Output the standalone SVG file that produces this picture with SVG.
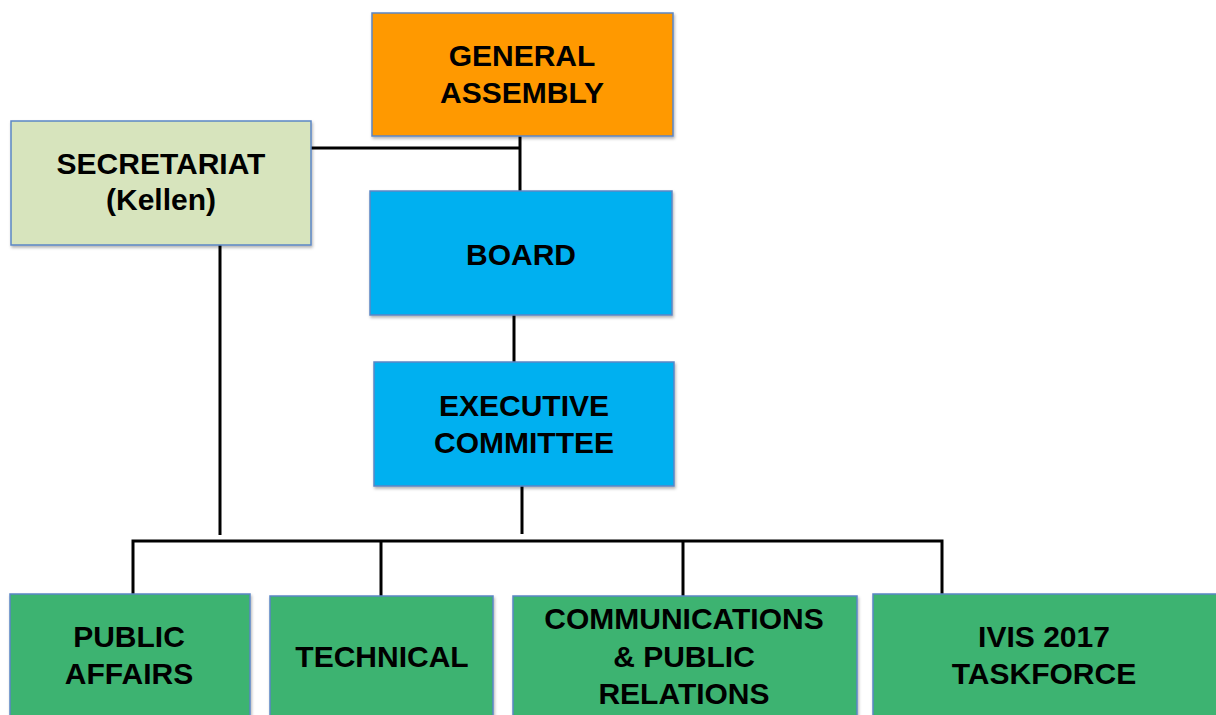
<svg xmlns="http://www.w3.org/2000/svg" width="1216" height="715" viewBox="0 0 1216 715">
<style>
.box{stroke:#5B86C5;stroke-width:1.5;filter:url(#sh)}
.t{font-family:"Liberation Sans",Arial,sans-serif;font-weight:bold;font-size:30px;fill:#000;text-anchor:middle}
.c{stroke:#000;stroke-width:3;fill:none}
</style>
<defs>
<filter id="sh" x="-5%" y="-5%" width="110%" height="115%">
<feDropShadow dx="1" dy="2" stdDeviation="1.5" flood-color="#000" flood-opacity="0.3"/>
</filter>
</defs>
<rect width="1216" height="715" fill="#fff"/>
<g id="connectors">
<path class="c" d="M520 136V191"/>
<path class="c" d="M311 148H521"/>
<path class="c" d="M514 315V362"/>
<path class="c" d="M522 486V534"/>
<path class="c" d="M220 245V535"/>
<path class="c" d="M133 594V541H942V594"/>
<path class="c" d="M381 541V596"/>
<path class="c" d="M683 541V596"/>
</g>
<g id="general-assembly">
<rect class="box" x="372" y="13" width="301" height="123" fill="#FF9900"/>
<text class="t" x="522" y="66">GENERAL</text>
<text class="t" x="522" y="103">ASSEMBLY</text>
</g>
<g id="secretariat">
<rect class="box" x="11" y="121" width="300" height="124" fill="#D7E4BD"/>
<text class="t" x="161" y="174">SECRETARIAT</text>
<text class="t" x="161" y="210">(Kellen)</text>
</g>
<g id="board">
<rect class="box" x="370" y="191" width="302" height="124" fill="#00B0F0"/>
<text class="t" x="521" y="265">BOARD</text>
</g>
<g id="executive-committee">
<rect class="box" x="374" y="362" width="300" height="124" fill="#00B0F0"/>
<text class="t" x="524" y="416">EXECUTIVE</text>
<text class="t" x="524" y="453">COMMITTEE</text>
</g>
<g id="public-affairs">
<rect class="box" x="10" y="594" width="240" height="130" fill="#3CB371"/>
<text class="t" x="129" y="647">PUBLIC</text>
<text class="t" x="129" y="684">AFFAIRS</text>
</g>
<g id="technical">
<rect class="box" x="270" y="596" width="223" height="130" fill="#3CB371"/>
<text class="t" x="382" y="667">TECHNICAL</text>
</g>
<g id="communications">
<rect class="box" x="513" y="596" width="344" height="130" fill="#3CB371"/>
<text class="t" x="684" y="629">COMMUNICATIONS</text>
<text class="t" x="684" y="667">&amp; PUBLIC</text>
<text class="t" x="684" y="704">RELATIONS</text>
</g>
<g id="ivis-taskforce">
<rect class="box" x="873" y="594" width="350" height="130" fill="#3CB371"/>
<text class="t" x="1044" y="647">IVIS 2017</text>
<text class="t" x="1044" y="684">TASKFORCE</text>
</g>
</svg>
